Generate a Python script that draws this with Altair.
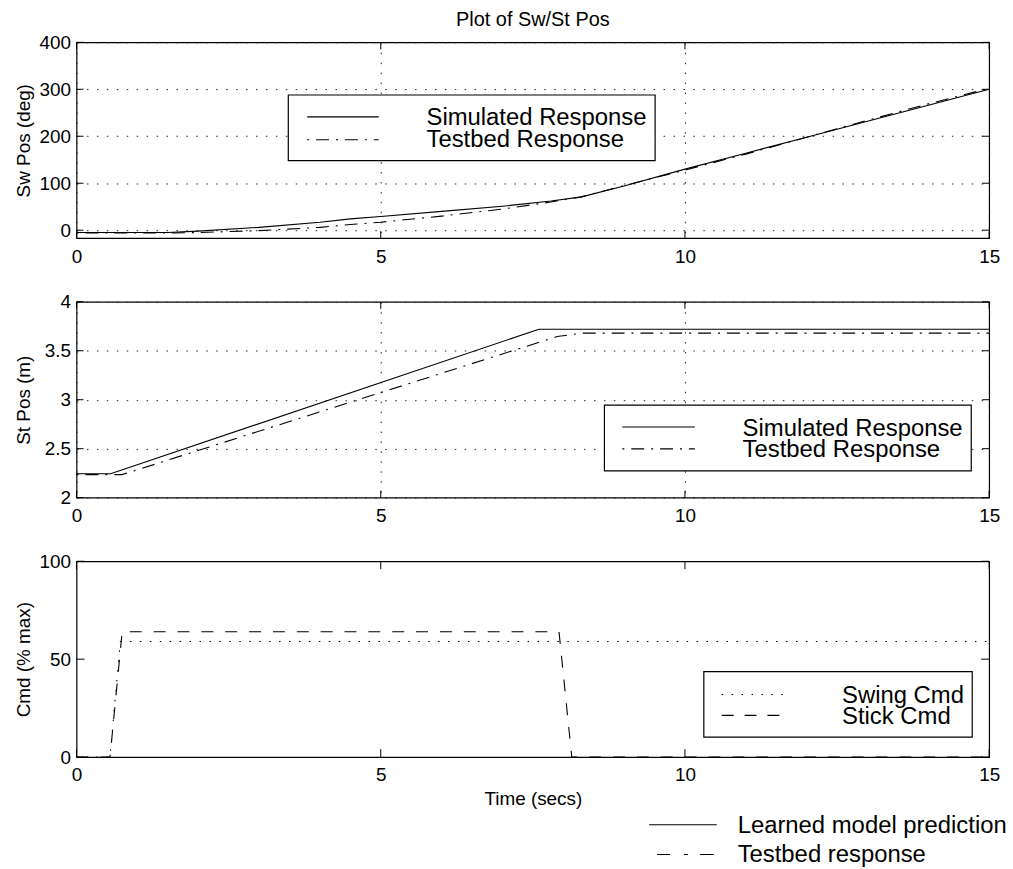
import altair as alt
import pandas as pd

FONT = "Liberation Sans"
W, H = 918, 197

# ---- Swing position (deg) ----
t_sw_sim = [0, 1.5, 2, 3, 4, 4.5, 5, 6, 7, 7.8, 8.3, 9, 10, 11, 12, 13, 14, 15]
sw_sim = [-5, -5, -2, 6, 17, 24, 29, 40, 51, 62, 71, 94, 130, 164, 198, 232, 266, 300]
t_sw_tb = [0, 1.5, 2, 3, 4, 4.5, 5, 6, 7, 7.8, 8.3, 9, 10, 11, 12, 13, 14, 15]
sw_tb = [-6, -6, -5, -1, 6, 12, 17, 30, 45, 60, 71, 95, 128, 162, 198, 234, 269, 302]

# ---- Stick position (m) ----
t_st_sim = [0, 0.56, 7.6, 15]
st_sim = [2.244, 2.244, 3.72, 3.72]
t_st_tb = [0, 0.75, 7.9, 8.3, 15]
st_tb = [2.235, 2.235, 3.645, 3.68, 3.68]

# ---- Commands (% max) ----
t_swing = [0, 0.55, 0.72, 15]
swing_cmd = [0, 0, 59, 59]
t_stick = [0, 0.55, 0.75, 7.93, 8.14, 15]
stick_cmd = [0, 0, 64, 64, 0, 0]

x_ticks = [0, 5, 10, 15]
sw_ticks = [0, 100, 200, 300, 400]
st_ticks = [2, 2.5, 3, 3.5, 4]
cmd_ticks = [0, 50, 100]

plot_title = "Plot of Sw/St Pos"
legend_pos = ["Simulated Response", "Testbed Response"]
legend_cmd = ["Swing Cmd", "Stick Cmd"]
legend_bottom = ["Learned model prediction", "Testbed response"]

DOT = [1.5, 8.5]
DASHDOT = [2, 7, 13, 7]
DASH = [12, 12]
LEG_FS = 24

one = pd.DataFrame({"k": [0]})


def xscale():
    return alt.Scale(domain=[0, 15], nice=False, zero=False)


def x_axis(grid, title=None):
    kw = dict(values=x_ticks, format="~f", grid=grid, gridDash=DOT, gridColor="#222",
              gridWidth=1, ticks=False, domain=False, labelFontSize=19, labelFont=FONT,
              labelColor="black", labelPadding=9, labelFlush=False)
    if title:
        kw.update(title=title, titleFontSize=19, titleFont=FONT, titleColor="black",
                  titleFontWeight="normal", titlePadding=5)
    else:
        kw.update(title=None)
    return alt.Axis(**kw)


def y_axis(values, grid, title, pad):
    return alt.Axis(values=values, format="~f", grid=grid, gridDash=DOT, gridColor="#222",
                    gridWidth=1, ticks=False, domain=False, labelFontSize=19, labelFont=FONT,
                    labelColor="black", labelPadding=6, labelFlush=False,
                    title=title, titleFontSize=19, titleFont=FONT, titleColor="black",
                    titleFontWeight="normal", titlePadding=pad)


def series(t, v, dash, ydom, axis_x, axis_y):
    df = pd.DataFrame({"t": t, "v": v})
    mark = alt.Chart(df).mark_line(color="black", strokeWidth=1.1,
                                   **({"strokeDash": dash} if dash else {}))
    return mark.encode(
        x=alt.X("t:Q", scale=xscale(), axis=axis_x),
        y=alt.Y("v:Q", scale=alt.Scale(domain=ydom, nice=False, zero=False), axis=axis_y),
    )


def inward_ticks(yvals, ydom, size=7):
    xs = pd.DataFrame({"t": x_ticks})
    ys = pd.DataFrame({"v": yvals})
    sc_y = alt.Scale(domain=ydom, nice=False, zero=False)
    base_x = alt.Chart(xs).mark_rule(color="black", strokeWidth=1)
    base_y = alt.Chart(ys).mark_rule(color="black", strokeWidth=1)
    return [
        base_x.encode(x=alt.X("t:Q", scale=xscale()), y=alt.value(H), y2=alt.value(H - size)),
        base_x.encode(x=alt.X("t:Q", scale=xscale()), y=alt.value(0), y2=alt.value(size)),
        base_y.encode(y=alt.Y("v:Q", scale=sc_y), x=alt.value(0), x2=alt.value(size)),
        base_y.encode(y=alt.Y("v:Q", scale=sc_y), x=alt.value(W - size), x2=alt.value(W)),
    ]


def box(x0, y0, x1, y1):
    return alt.Chart(one).mark_rect(fill="white", stroke="black", strokeWidth=1.2).encode(
        x=alt.value(x0), x2=alt.value(x1), y=alt.value(y0), y2=alt.value(y1))


def sample(x0, x1, y, dash=None):
    kw = {"strokeDash": dash} if dash else {}
    return alt.Chart(one).mark_rule(color="black", strokeWidth=1.1, **kw).encode(
        x=alt.value(x0), x2=alt.value(x1), y=alt.value(y))


def label(txt, x, y, size=LEG_FS, align="left"):
    return alt.Chart(one).mark_text(align=align, baseline="middle", font=FONT,
                                    fontSize=size, color="black").encode(
        x=alt.value(x), y=alt.value(y), text=alt.value(txt))


# ---- Panel 1: swing position ----
sw_dom = [-17, 400]
p1 = alt.layer(
    series(t_sw_sim, sw_sim, None, sw_dom, x_axis(True), y_axis(sw_ticks, True, "Sw Pos (deg)", 6)),
    series(t_sw_tb, sw_tb, DASHDOT, sw_dom, x_axis(True), y_axis(sw_ticks, True, "Sw Pos (deg)", 6)),
    *inward_ticks(sw_ticks, sw_dom),
    box(213, 53, 582, 119),
    sample(232, 304, 75),
    sample(232, 304, 98, DASHDOT),
    label(legend_pos[0], 352, 76.5),
    label(legend_pos[1], 352, 98.5),
    label(plot_title, W / 2, -22, 20, "center"),
).properties(width=W, height=H)

# ---- Panel 2: stick position ----
st_dom = [2, 4]
p2 = alt.layer(
    series(t_st_sim, st_sim, None, st_dom, x_axis(True), y_axis(st_ticks, True, "St Pos (m)", 10.5)),
    series(t_st_tb, st_tb, DASHDOT, st_dom, x_axis(True), y_axis(st_ticks, True, "St Pos (m)", 10.5)),
    *inward_ticks(st_ticks, st_dom),
    box(531, 104, 900, 170),
    sample(549, 622, 126),
    sample(549, 622, 148, DASHDOT),
    label(legend_pos[0], 670, 127.5),
    label(legend_pos[1], 670, 149.5),
).properties(width=W, height=H)

# ---- Panel 3: commands ----
cmd_dom = [0, 100]
ax3 = x_axis(False, "Time (secs)")
ay3 = y_axis(cmd_ticks, False, "Cmd (% max)", 6)
p3 = alt.layer(
    series(t_swing, swing_cmd, DOT, cmd_dom, ax3, ay3),
    series(t_stick, stick_cmd, DASH, cmd_dom, ax3, ay3),
    *inward_ticks(cmd_ticks, cmd_dom, 8),
    box(631, 111, 901, 177),
    sample(649, 716, 134, DOT),
    sample(649, 709, 155, [12, 11]),
    label(legend_cmd[0], 770, 135.5),
    label(legend_cmd[1], 770, 156.5),
    # overall line-style key beneath the axes
    sample(576, 644, 265),
    sample(584, 641, 295, [13, 14, 4, 12, 14]),
    label(legend_bottom[0], 665, 266),
    label(legend_bottom[1], 665, 295.5),
).properties(width=W, height=H)

chart = alt.vconcat(p1, p2, p3, spacing=64, bounds="flush").properties(
    padding={"left": 13, "top": 7, "right": 5, "bottom": 0},
    background="white",
).configure_view(stroke="black", strokeWidth=1.2)

chart.save("out.html", embed_options={"renderer": "svg", "actions": False})
